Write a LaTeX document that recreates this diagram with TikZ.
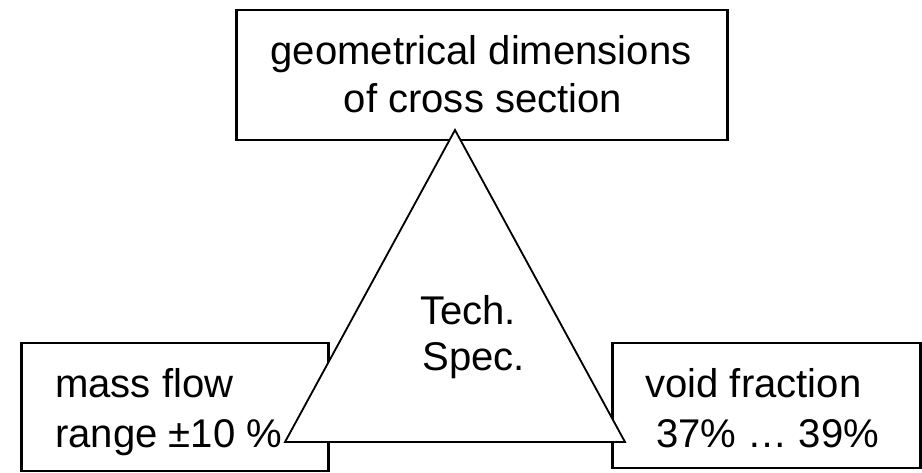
\documentclass[tikz,border=0pt]{standalone}
\usepackage{fontspec}
\setmainfont{Liberation Sans}
\usetikzlibrary{positioning}
\tikzstyle{block}=[draw,fill=white,rectangle,line width=2.1pt,inner sep=0pt]
\tikzstyle{txt}=[font=\fontsize{28.5}{34}\selectfont,inner sep=0pt]

\begin{document}
\begin{tikzpicture}[x=0.025cm,y=-0.025cm]
    \useasboundingbox (0,0) rectangle (922,473);
    \node[block, minimum width=12.25cm, minimum height=3.25cm] (geom) at (482,75) {};
    \node[block, minimum width=7.65cm, minimum height=3.2cm] (mass) at (175,407) {};
    \node[block, minimum width=7.675cm, minimum height=3.125cm] (void) at (766.5,405.5) {};
    \coordinate (apex) at (455,130);
    \coordinate (cornerl) at (285,442);
    \coordinate (cornerr) at (625,442);
    \draw[fill=white, line width=1.3pt] (apex) -- (cornerl) -- (cornerr) -- cycle;
    \node[txt, anchor=base] (geom1) at (481,65) {geometrical dimensions};
    \node[txt, anchor=base] (geom2) at (483,112) {of cross section};
    \node[txt, anchor=base west] (mass1) at (55,397) {mass flow};
    \node[txt, anchor=base west] (mass2) at (55,447) {range ±10 \%};
    \node[txt, anchor=base west] (void1) at (645,397) {void fraction};
    \node[txt, anchor=base west] (void2) at (656,447) {37\% … 39\%};
    \node[txt, anchor=base west] (tech1) at (420,324) {Tech.};
    \node[txt, anchor=base west] (tech2) at (422,370) {Spec.};
\end{tikzpicture}
\end{document}
